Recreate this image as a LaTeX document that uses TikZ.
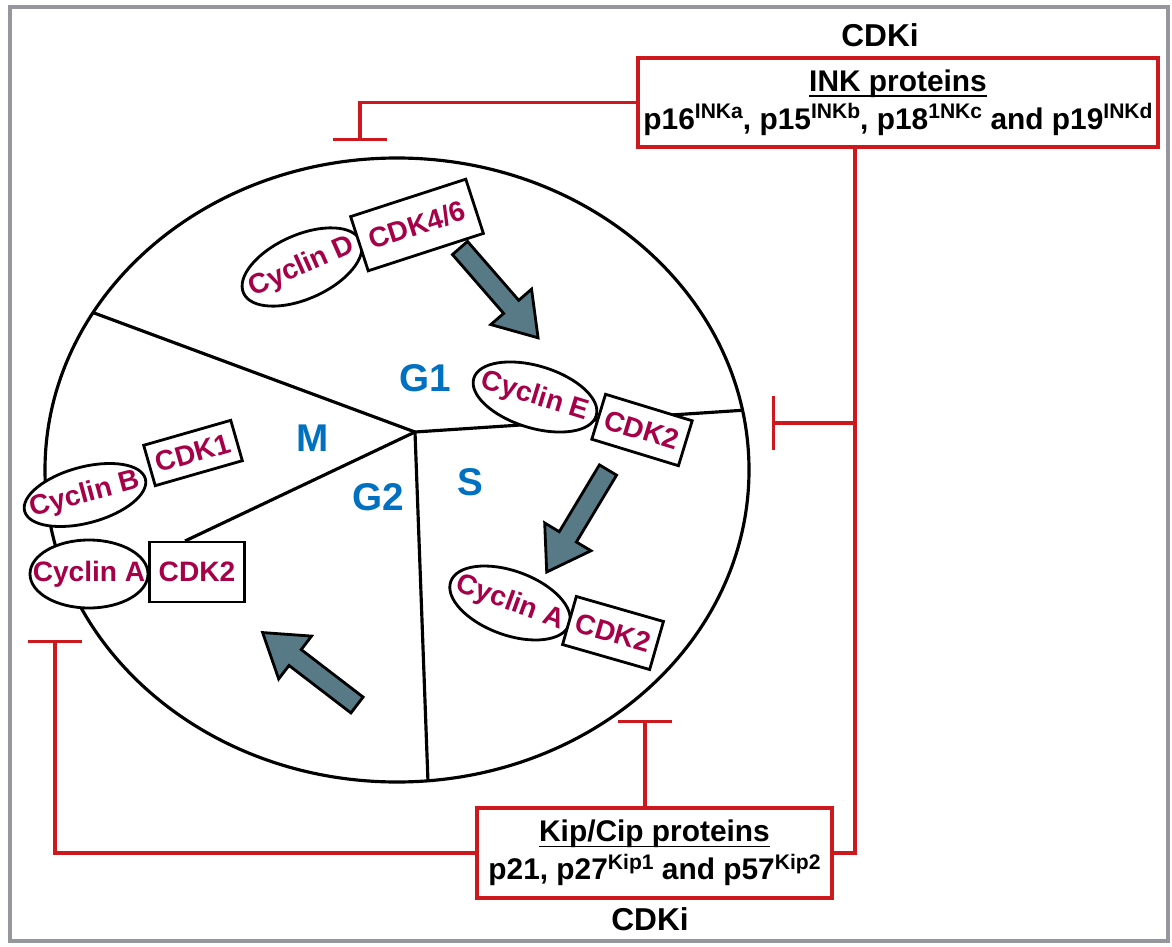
\documentclass[tikz,border=0pt]{standalone}
\usepackage{fontspec}
\setmainfont{Liberation Sans}
\usepackage{tikz}
\usetikzlibrary{arrows.meta,shapes.geometric}

\definecolor{cycred}{RGB}{165,0,72}
\definecolor{phaseblue}{RGB}{0,112,192}
\definecolor{inhred}{RGB}{205,25,30}
\definecolor{arrowgray}{RGB}{88,122,134}
\definecolor{framegray}{RGB}{150,150,158}

\newcommand{\sups}[1]{\raisebox{0.65ex}{\fontsize{6}{6}\selectfont #1}}
\newcommand{\ctext}[1]{\makebox[0pt]{#1}}
\newcommand{\uln}[1]{\underline{\raisebox{0pt}[\height][0pt]{#1}}}

\begin{document}
\begin{tikzpicture}[
      cyc/.style={ellipse, draw, line width=0.8pt, fill=white, inner sep=0pt, minimum width=1.28cm, minimum height=0.64cm, text=cycred, font=\fontsize{8}{9}\selectfont\bfseries},
      cdk/.style={rectangle, draw, line width=0.8pt, fill=white, inner xsep=2pt, inner ysep=0pt, minimum height=0.5cm, text=cycred, font=\fontsize{8}{9}\selectfont\bfseries},
      phase/.style={text=phaseblue, font=\fontsize{11}{13}\selectfont\bfseries},
      cdki/.style={rectangle, draw=inhred, line width=1pt, fill=white, align=center, inner sep=0pt, minimum height=0.89cm, font=\fontsize{8.5}{10.8}\selectfont\bfseries},
      title/.style={font=\fontsize{9}{11}\selectfont\bfseries},
      redline/.style={draw=inhred, line width=0.9pt},
      inhib/.style={redline, -{Bar[width=0.54cm, line width=0.9pt]}},
      blockarrow/.style={fill=arrowgray, draw=black, line width=0.8pt, line join=miter},
      >=Latex
    ]

    \useasboundingbox (0,0) rectangle (11.72,9.46);
    \draw[framegray, line width=1.2pt] (0.10,0.05) rectangle (11.68,9.39);

    % ---- cell cycle circle ----
    \def\cx{3.97}
    \def\cy{4.76}
    \def\rx{3.52}
    \def\ry{3.12}

    \coordinate (hub) at (4.15,5.14);

    \begin{scope}
      \clip (\cx,\cy) ellipse [x radius=\rx, y radius=\ry];
      \draw[line width=0.9pt] (hub) -- (0.16,6.62);
      \draw[line width=0.9pt] (hub) -- (8.07,5.40);
      \draw[line width=0.9pt] (hub) -- (4.29,1.37);
      \draw[line width=0.9pt] (hub) -- (1.85,4.05);
    \end{scope}
    \draw[line width=0.9pt] (\cx,\cy) ellipse [x radius=\rx, y radius=\ry];

    % ---- phase labels ----
    \node[phase] (g1) at (4.25,5.68) {G1};
    \node[phase] (m)  at (3.13,5.08) {M};
    \node[phase] (g2) at (3.78,4.49) {G2};
    \node[phase] (s)  at (4.70,4.64) {S};

    % ================= cyclin / CDK pairs =================
    \node[cyc, rotate=24] (cycD) at (3.02,6.79) {\ctext{Cyclin D}};
    \node[cdk, rotate=18, inner xsep=3pt, minimum height=0.57cm] (cdk46) at (4.17,7.21) {CDK4/6};

    \node[cyc, rotate=-17, minimum height=0.62cm] (cycE) at (5.35,5.49) {\ctext{Cyclin E}};
    \node[cdk, rotate=-17, minimum height=0.47cm] (cdk2E) at (6.42,5.16) {CDK2};

    \node[cyc, rotate=15, minimum width=1.25cm, minimum height=0.56cm] (cycB) at (0.85,4.51) {\ctext{Cyclin B}};
    \node[cdk, rotate=16, minimum height=0.42cm] (cdk1) at (1.93,4.93) {CDK1};

    \node[cyc, minimum width=1.18cm, minimum height=0.68cm] (cycAl) at (0.89,3.72) {\ctext{Cyclin A}};
    \node[cdk, minimum width=0.95cm, minimum height=0.60cm] (cdk2Al) at (1.97,3.74) {CDK2};

    \node[cyc, rotate=-20, minimum width=1.26cm, minimum height=0.64cm] (cycAr) at (5.10,3.43) {\ctext{Cyclin A}};
    \node[cdk, rotate=-16] (cdk2Ar) at (6.13,3.13) {CDK2};

    % ---- progression arrows ----
    \foreach \tx/\ty/\ang in {4.60/6.98/-49, 6.08/4.76/-121, 3.57/2.41/142.5}
      \draw[blockarrow, shift={(\tx,\ty)}, rotate=\ang]
        (0,-0.10) -- (0.78,-0.10) -- (0.78,-0.27) -- (1.19,0) -- (0.78,0.27) -- (0.78,0.10) -- (0,0.10) -- cycle;

    % ================= CDK inhibitors =================
    \node[title] (cdkiT) at (8.80,9.11) {CDKi};
    \node[cdki, minimum width=5.20cm] (inkbox) at (8.98,8.435)
      {\uln{INK proteins}\\
       p16\sups{INKa}, p15\sups{INKb}, p18\sups{1NKc} and p19\sups{INKd}};

    \node[cdki, minimum width=3.55cm, minimum height=0.90cm] (kipbox) at (6.545,0.93)
      {\uln{Kip/Cip proteins}\\
       p21, p27\sups{Kip1} and p57\sups{Kip2}};
    \node[title] (cdkiB) at (6.50,0.27) {CDKi};

    % ---- inhibition lines ----
    \coordinate (rail)   at (8.55,0);
    \coordinate (branch) at (8.55,5.23);
    \coordinate (barS)   at (7.72,5.23);
    \coordinate (barG1)  at (3.60,8.05);
    \coordinate (barSb)  at (6.45,2.26);
    \coordinate (barM)   at (0.55,3.06);

    \draw[inhib] (inkbox.west) -| (barG1);
    \draw[redline] (inkbox.south -| rail) |- (kipbox.east);
    \draw[inhib] (branch) -- (barS);
    \draw[inhib] (kipbox.north -| barSb) -- (barSb);
    \draw[inhib] (kipbox.west) -| (barM);

    \end{tikzpicture}
\end{document}
